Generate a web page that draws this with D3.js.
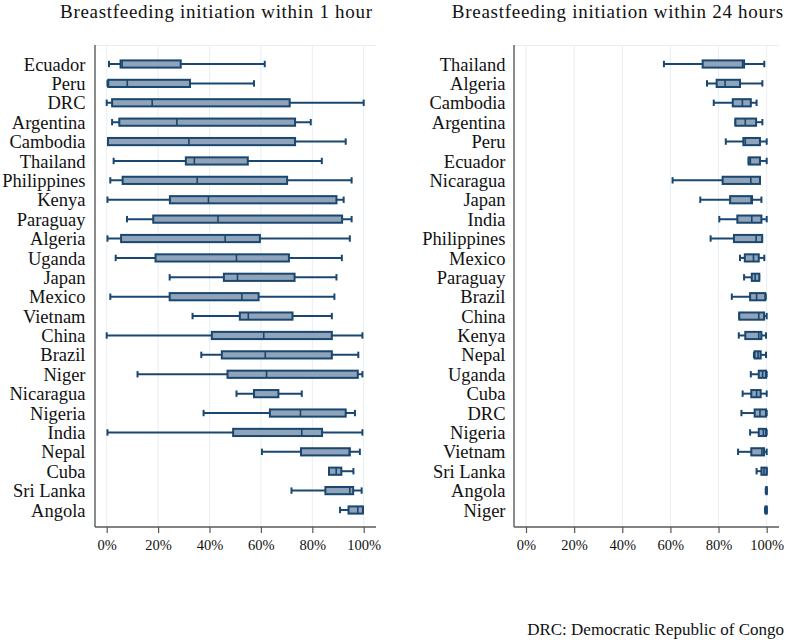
<!DOCTYPE html>
<html><head><meta charset="utf-8">
<script src="https://cdn.jsdelivr.net/npm/d3@7"></script>
<style>
html,body{margin:0;padding:0;background:#fff;}
svg{display:block;font-family:"Liberation Serif","Times New Roman",serif;}
</style></head><body>
<svg id="c" width="787" height="642"></svg>
<script>
// ---------- DATA ----------
const title1h = "Breastfeeding initiation within 1 hour";
const title24h = "Breastfeeding initiation within 24 hours";
const footnote = "DRC: Democratic Republic of Congo";
const tickValues = [0, 20, 40, 60, 80, 100];

const countries1h = ["Ecuador","Peru","DRC","Argentina","Cambodia","Thailand","Philippines","Kenya","Paraguay","Algeria","Uganda","Japan","Mexico","Vietnam","China","Brazil","Niger","Nicaragua","Nigeria","India","Nepal","Cuba","Sri Lanka","Angola"];
const lo1h  = [0.9, 0.3, 0.0, 2.1, 0.5, 2.7, 1.4, 0.3, 7.9, 0.3, 3.5, 24.5, 1.4, 33.4, 0.0, 36.8, 12.0, 50.5, 37.7, 0.3, 60.4, 86.5, 71.9, 90.8];
const q1_1h = [5.4, 0.6, 2.1, 4.9, 0.5, 30.8, 6.2, 24.6, 18.1, 5.6, 19.0, 45.6, 24.5, 51.8, 40.9, 44.8, 47.0, 57.3, 63.5, 49.2, 75.6, 86.5, 85.1, 94.1];
const med1h = [6.0, 8.0, 17.7, 27.3, 32.0, 34.1, 35.2, 39.6, 43.3, 46.1, 50.5, 50.9, 52.6, 55.1, 61.1, 61.7, 62.2, 57.4, 75.4, 75.9, 94.4, 89.3, 94.6, 97.7];
const q3_1h = [28.8, 32.4, 71.2, 73.3, 73.3, 54.9, 70.2, 89.4, 91.6, 59.6, 70.9, 73.1, 59.1, 72.3, 87.6, 87.6, 97.7, 66.8, 93.0, 83.8, 94.6, 91.3, 95.9, 99.7];
const hi1h  = [61.5, 57.3, 100, 79.4, 93.0, 83.7, 95.3, 92.2, 95.3, 94.6, 91.5, 89.4, 88.6, 87.6, 99.5, 97.9, 99.5, 75.9, 96.6, 99.5, 98.5, 96.0, 99.2, 99.7];

const countries24h = ["Thailand","Algeria","Cambodia","Argentina","Peru","Ecuador","Nicaragua","Japan","India","Philippines","Mexico","Paraguay","Brazil","China","Kenya","Nepal","Uganda","Cuba","DRC","Nigeria","Vietnam","Sri Lanka","Angola","Niger"];
const lo24h  = [57.3, 75.2, 78.0, 87.0, 83.0, 92.5, 60.9, 72.4, 80.3, 76.7, 88.9, 90.6, 85.5, 88.6, 88.4, 94.7, 93.4, 90.0, 89.5, 93.1, 88.1, 95.8, 99.6, 99.3];
const q1_24h = [73.4, 79.2, 85.9, 87.0, 90.3, 92.5, 81.7, 84.8, 87.8, 86.4, 90.9, 93.8, 93.1, 88.6, 91.1, 95.0, 96.7, 93.6, 95.0, 96.7, 93.6, 97.8, 99.8, 99.5];
const med24h = [90.0, 82.7, 89.9, 91.1, 91.1, 93.2, 93.4, 93.5, 93.8, 95.6, 94.5, 95.2, 95.8, 96.7, 96.7, 96.4, 98.3, 95.8, 97.2, 98.6, 98.0, 98.9, 100, 100];
const q3_24h = [90.6, 88.9, 93.4, 95.6, 97.2, 97.2, 97.2, 93.9, 97.8, 98.1, 96.7, 96.9, 99.4, 98.9, 97.8, 97.5, 99.7, 97.5, 99.7, 99.7, 98.9, 100, 100, 100];
const hi24h  = [99.0, 98.2, 95.8, 98.2, 100, 100, 97.2, 97.8, 100, 98.1, 99.0, 96.9, 99.6, 100, 99.7, 99.7, 100, 100, 100, 100, 100, 100, 100, 100];

// ---------- STYLE ----------
const navy = "#1a476f", boxFill = "#8fa3ba", gridCol = "#e6eff2", axisCol = "#5a5a5a";
const svg = d3.select("#c");

function panel(cfg) {
  const rows = cfg.countries.map((c, i) => ({c, lo: cfg.lo[i], q1: cfg.q1[i], med: cfg.med[i], q3: cfg.q3[i], hi: cfg.hi[i]}));
  const x = d3.scaleLinear().domain([0, 100]).range([cfg.x0, cfg.x100]);
  const y = d3.scalePoint().domain(cfg.countries).range([64, 510]);
  const top = 45, bottom = 527;
  const g = svg.append("g");

  // grid
  g.selectAll("line.grid").data(tickValues).join("line")
    .attr("x1", d => x(d)).attr("x2", d => x(d)).attr("y1", top).attr("y2", bottom)
    .attr("stroke", gridCol).attr("stroke-width", 1);
  g.append("line").attr("x1", cfg.axisX).attr("x2", cfg.right).attr("y1", top + 0.5).attr("y2", top + 0.5)
    .attr("stroke", gridCol).attr("stroke-width", 1);

  // whiskers
  const w = g.append("g").attr("stroke", navy).attr("stroke-width", 2);
  w.selectAll("line.wh").data(rows).join("line")
    .attr("x1", d => x(d.lo)).attr("x2", d => x(d.hi)).attr("y1", d => y(d.c)).attr("y2", d => y(d.c));
  w.selectAll("line.capl").data(rows).join("line")
    .attr("x1", d => x(d.lo)).attr("x2", d => x(d.lo)).attr("y1", d => y(d.c) - 3.2).attr("y2", d => y(d.c) + 3.2);
  w.selectAll("line.caph").data(rows).join("line")
    .attr("x1", d => x(d.hi)).attr("x2", d => x(d.hi)).attr("y1", d => y(d.c) - 3.2).attr("y2", d => y(d.c) + 3.2);

  // boxes
  g.selectAll("rect.box").data(rows).join("rect")
    .attr("x", d => x(d.q1)).attr("width", d => Math.max(0.5, x(d.q3) - x(d.q1)))
    .attr("y", d => y(d.c) - 3.6).attr("height", 7.2)
    .attr("fill", boxFill).attr("stroke", navy).attr("stroke-width", 2);
  g.selectAll("line.med").data(rows).join("line")
    .attr("x1", d => x(d.med)).attr("x2", d => x(d.med)).attr("y1", d => y(d.c) - 3.6).attr("y2", d => y(d.c) + 3.6)
    .attr("stroke", navy).attr("stroke-width", 1.6);

  // axes
  const xAxis = d3.axisBottom(x).tickValues(tickValues).tickFormat(d => d + "%").tickSize(6).tickPadding(7);
  const ax = g.append("g").attr("transform", `translate(0,${bottom})`).call(xAxis);
  ax.select(".domain").remove();
  ax.selectAll(".tick line").attr("stroke", axisCol).attr("stroke-width", 1.2);
  ax.selectAll(".tick text").attr("font-family", "Liberation Serif").attr("font-size", "14.5px").attr("fill", "#111");
  g.append("line").attr("x1", cfg.axisX).attr("x2", cfg.right).attr("y1", bottom).attr("y2", bottom)
    .attr("stroke", axisCol).attr("stroke-width", 1.4);

  const yAxis = d3.axisLeft(y).tickSize(0).tickPadding(cfg.axisX - cfg.labelRight);
  const ay = g.append("g").attr("transform", `translate(${cfg.axisX},0)`).call(yAxis);
  ay.select(".domain").remove();
  ay.selectAll(".tick text").attr("font-family", "Liberation Serif").attr("font-size", "18.5px").attr("fill", "#111").attr("dy", "0.33em");
  g.append("line").attr("x1", cfg.axisX).attr("x2", cfg.axisX).attr("y1", top).attr("y2", bottom)
    .attr("stroke", axisCol).attr("stroke-width", 1.4);

  // title
  svg.append("text").attr("x", cfg.titleX).attr("y", 18).attr("text-anchor", "middle")
    .attr("font-size", "19px").attr("fill", "#111")
    .attr("textLength", cfg.titleLen).attr("lengthAdjust", "spacing")
    .text(cfg.title);
}

panel({countries: countries1h, lo: lo1h, q1: q1_1h, med: med1h, q3: q3_1h, hi: hi1h,
       x0: 106.7, x100: 363.7, axisX: 95, right: 376, labelRight: 85.5,
       title: title1h, titleX: 216, titleLen: 312});
panel({countries: countries24h, lo: lo24h, q1: q1_24h, med: med24h, q3: q3_24h, hi: hi24h,
       x0: 526, x100: 766.7, axisX: 514, right: 779, labelRight: 505.5,
       title: title24h, titleX: 617.5, titleLen: 331.5});

svg.append("text").attr("x", 784).attr("y", 635).attr("text-anchor", "end")
  .attr("font-size", "17px").attr("fill", "#111").text(footnote);
</script>
</body></html>
